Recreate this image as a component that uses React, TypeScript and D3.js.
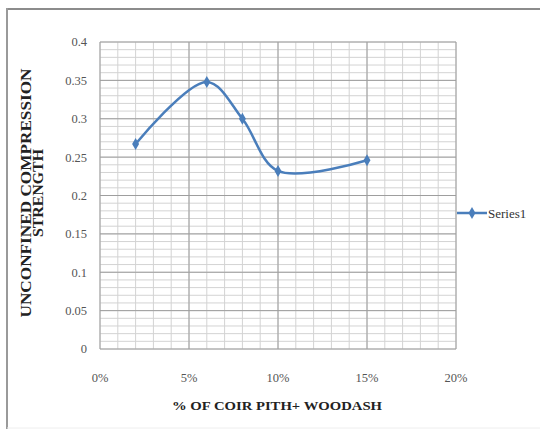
import React from "react";
import * as d3 from "d3";

const xValues = [2, 6, 8, 10, 15];
const yValues = [0.267, 0.348, 0.3, 0.232, 0.246];
const xTicks = [0, 5, 10, 15, 20];
const yTicks = [0, 0.05, 0.1, 0.15, 0.2, 0.25, 0.3, 0.35, 0.4];
const seriesName = "Series1";
const xTitle = "% OF COIR PITH+ WOODASH";
const yTitleLines = ["UNCONFINED COMPRESSION", "STRENGTH"];

const W = 540;
const H = 429;
const left = 100, right = 456, top = 42, bottom = 349;

export default function App() {
  const x = d3.scaleLinear().domain([0, 20]).range([left, right]);
  const y = d3.scaleLinear().domain([0, 0.4]).range([bottom, top]);
  const xMinor = d3.range(0, 21, 1);
  const yMinor = d3.range(0, 41, 1).map((v) => v / 100);
  const line = d3
    .line<number>()
    .x((_, i) => x(xValues[i]))
    .y((d) => y(d))
    .curve(d3.curveCatmullRom.alpha(0.5));
  const diamond = d3.symbol().type(d3.symbolDiamond).size(42)();
  const ff = { fontFamily: "'Liberation Serif', 'Times New Roman', serif" };
  const color = "#4a7ebb";
  const yTitleLen = [249, 88];
  const yTitleX = [31, 43];
  return (
    <svg
      width={W}
      height={H}
      style={{ position: "absolute", left: 0, top: 0, background: "#fff" }}
    >
      <rect x={0} y={0} width={W} height={H} fill="#fff" />
      <line x1={7} y1={9} x2={W} y2={9} stroke="#8c8c8c" strokeWidth={2} />
      <line x1={7} y1={8} x2={7} y2={H} stroke="#9a9a9a" strokeWidth={2} />
      <line x1={7} y1={H - 1} x2={W} y2={H - 1} stroke="#eeeeee" strokeWidth={1} />
      {xMinor.map((v) => (
        <line key={"xm" + v} x1={x(v)} x2={x(v)} y1={top} y2={bottom} stroke="#d3d3d3" strokeWidth={1} />
      ))}
      {yMinor.map((v) => (
        <line key={"ym" + v} x1={left} x2={right} y1={y(v)} y2={y(v)} stroke="#d3d3d3" strokeWidth={1} />
      ))}
      {xTicks.map((v) => (
        <line key={"xM" + v} x1={x(v)} x2={x(v)} y1={top} y2={bottom} stroke="#9e9e9e" strokeWidth={1} />
      ))}
      {yTicks.map((v) => (
        <line key={"yM" + v} x1={left} x2={right} y1={y(v)} y2={y(v)} stroke="#9e9e9e" strokeWidth={1} />
      ))}
      {yTicks.map((v) => (
        <text key={"yl" + v} x={87} y={y(v)} dy="0.35em" textAnchor="end" fontSize={12.5} fill="#555" style={ff}>
          {String(v)}
        </text>
      ))}
      {xTicks.map((v) => (
        <text key={"xl" + v} x={x(v)} y={378} dy="0.35em" textAnchor="middle" fontSize={12.5} fill="#555" style={ff}>
          {v + "%"}
        </text>
      ))}
      <path d={line(yValues) || ""} fill="none" stroke={color} strokeWidth={2.5} />
      {yValues.map((v, i) => (
        <path key={"m" + i} d={diamond || ""} transform={`translate(${x(xValues[i])},${y(v)})`} fill={color} />
      ))}
      <line x1={457} x2={487} y1={213} y2={213} stroke={color} strokeWidth={2.5} />
      <path d={diamond || ""} transform="translate(472,213)" fill={color} />
      <text x={488} y={213} dy="0.35em" fontSize={13} fill="#333" style={ff}>
        {seriesName}
      </text>
      <text
        x={277}
        y={410}
        textAnchor="middle"
        fontSize={13.5}
        fontWeight="bold"
        fill="#222"
        style={ff}
        textLength={210}
        lengthAdjust="spacingAndGlyphs"
      >
        {xTitle}
      </text>
      {yTitleLines.map((t, i) => (
        <text
          key={"yt" + i}
          transform={`translate(${yTitleX[i]},193) rotate(-90)`}
          textAnchor="middle"
          fontSize={14}
          fontWeight="bold"
          fill="#222"
          style={ff}
          textLength={yTitleLen[i]}
          lengthAdjust="spacingAndGlyphs"
        >
          {t}
        </text>
      ))}
    </svg>
  );
}
